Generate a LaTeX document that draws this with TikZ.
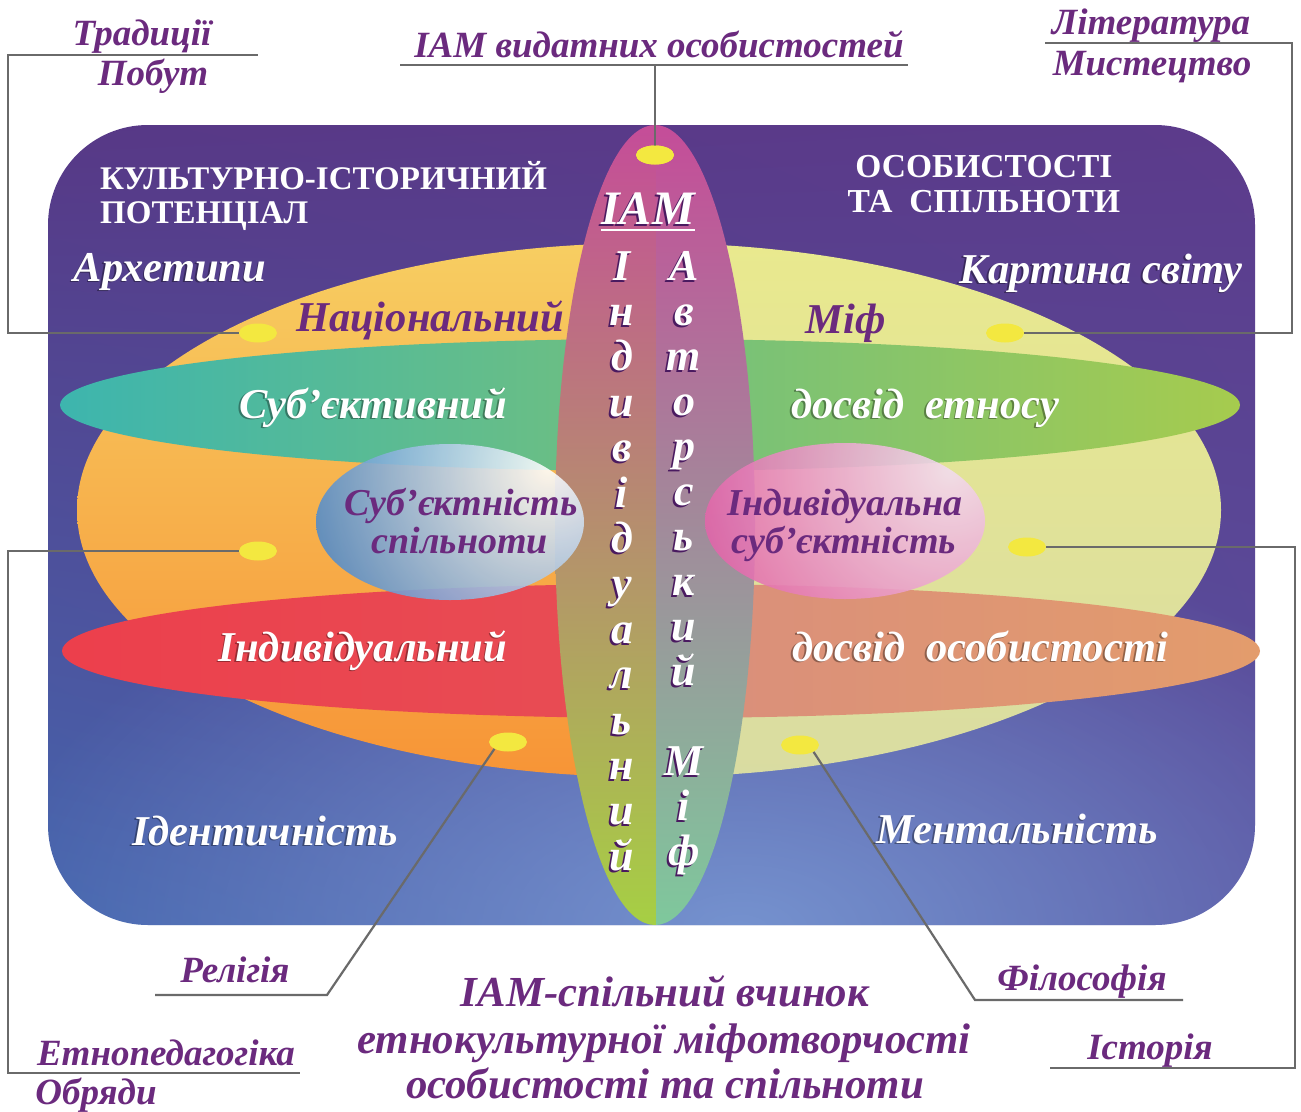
\documentclass[tikz,border=0pt]{standalone}
\usepackage{fontspec}
\setmainfont{Liberation Serif}
\usetikzlibrary{shapes.geometric,fadings,shadings}
\definecolor{txtpurple}{HTML}{6B2A7E}
\definecolor{conncol}{HTML}{6A6A6A}
\definecolor{dotyellow}{HTML}{F3E840}
\definecolor{vshadow}{HTML}{4A1A60}
\definecolor{bgUL}{HTML}{573886}
\definecolor{bgUR}{HTML}{5C3B8B}
\definecolor{bgLL}{HTML}{4566AE}
\definecolor{bgLR}{HTML}{5852A0}
\definecolor{glow}{HTML}{7C9CD6}
\definecolor{orTop}{HTML}{F7CE62}
\definecolor{orMid}{HTML}{F8A846}
\definecolor{orBot}{HTML}{F79436}
\definecolor{ylTop}{HTML}{E9E98E}
\definecolor{ylMid}{HTML}{E6E6A4}
\definecolor{ylBot}{HTML}{D9DCA2}
\definecolor{grL}{HTML}{3DB5AE}
\definecolor{grM}{HTML}{86CB7C}
\definecolor{grR}{HTML}{A6CB4E}
\definecolor{rdL}{HTML}{EC3F4C}
\definecolor{rdM}{HTML}{E74E55}
\definecolor{rdRa}{HTML}{D98E7C}
\definecolor{rdRb}{HTML}{E39C6C}
\definecolor{vTop}{HTML}{C54C99}
\definecolor{vMidL}{HTML}{BB8A80}
\definecolor{vBotL}{HTML}{A6D043}
\definecolor{vMidR}{HTML}{BC92B2}
\definecolor{vBotR}{HTML}{7EC99C}
\definecolor{blueE}{HTML}{3A7CC4}
\definecolor{pinkL}{HTML}{E04E9C}
\definecolor{pinkR}{HTML}{F3DDF0}
\tikzfading[name=softglow, inner color=transparent!0, outer color=transparent!100]
\begin{document}
\begin{tikzpicture}[x=1pt,y=-1pt,
  conn/.style={draw=conncol, line width=2.2pt},
  dot/.style={ellipse, fill=dotyellow, minimum width=38pt, minimum height=19pt, inner sep=0pt},
  outlab/.style={font=\fontsize{37}{40}\selectfont\bfseries\itshape, text=txtpurple, inner sep=0pt, anchor=base},
  head/.style={font=\fontsize{33}{34}\selectfont\bfseries, text=white, inner sep=0pt, anchor=base},
  wlab/.style={font=\fontsize{42.5}{46}\selectfont\bfseries\itshape, text=white, inner sep=0pt, anchor=base},
  wsh/.style={wlab, text=black, text opacity=0.35},
  plab/.style={font=\fontsize{42.5}{46}\selectfont\bfseries\itshape, text=txtpurple, inner sep=0pt, anchor=base},
  slab/.style={font=\fontsize{38}{42}\selectfont\bfseries\itshape, text=txtpurple, inner sep=0pt, anchor=base},
  vlet/.style={font=\fontsize{44}{48}\selectfont\bfseries\itshape, text=white, inner sep=0pt, anchor=base},
  vsh/.style={vlet, text=vshadow},
  blab/.style={font=\fontsize{42.8}{46}\selectfont\bfseries\itshape, text=txtpurple, inner sep=0pt, anchor=base},
]
\fill[white] (0,0) rectangle (1301,1111);
\useasboundingbox (0,0) rectangle (1301,1111);

% panel
\shade[upper left=bgUL, upper right=bgUR, lower left=bgLL, lower right=bgLR, rounded corners=100pt] (48,125) rectangle (1255,925);
\begin{scope}
  \clip[rounded corners=100pt] (48,125) rectangle (1255,925);
  \fill[glow, fill opacity=0.85, path fading=softglow] (740,930) ellipse [x radius=760pt, y radius=420pt];
\end{scope}

% big orange / yellow ellipse
\begin{scope}
  \clip (649,510) ellipse [x radius=572pt, y radius=267pt];
  \shade[top color=orTop, middle color=orMid, bottom color=orBot] (70,240) rectangle (656,780);
  \shade[top color=ylTop, middle color=ylMid, bottom color=ylBot] (656,240) rectangle (1225,780);
\end{scope}

% green ellipse
\shade[left color=grL, middle color=grM, right color=grR] (650,405) ellipse [x radius=590pt, y radius=66pt];

% red ellipse
\begin{scope}
  \clip (661,651) ellipse [x radius=599pt, y radius=67pt];
  \shade[left color=rdL, right color=rdM] (60,580) rectangle (662,720);
  \shade[left color=rdRa, right color=rdRb] (662,580) rectangle (1262,720);
\end{scope}

% vertical ellipse
\begin{scope}
  \clip (655,525) ellipse [x radius=100pt, y radius=400pt];
  \shade[top color=vTop, middle color=vMidL, bottom color=vBotL] (550,120) rectangle (656,930);
  \shade[top color=vTop, middle color=vMidR, bottom color=vBotR] (656,120) rectangle (760,930);
\end{scope}

% small ellipses
\begin{scope}
  \clip (450,522) ellipse [x radius=134pt, y radius=78pt];
  \shade[inner color=white, outer color=blueE, opacity=0.88] (548,468) circle (270pt);
\end{scope}
\begin{scope}
  \clip (845,521) ellipse [x radius=140pt, y radius=78pt];
  \shade[inner color=pinkR, outer color=pinkL, opacity=0.88] (950,470) circle (300pt);
\end{scope}

% dots
\node[dot] (d0) at (655,155) {};
\node[dot] (d1) at (258,333) {};
\node[dot] (d2) at (1005,333) {};
\node[dot] (d3) at (258,551) {};
\node[dot] (d4) at (1027,547) {};
\node[dot] (d5) at (508,742) {};
\node[dot] (d6) at (800,745) {};

% connector coordinates
\coordinate (u0a) at (400,65);
\coordinate (u0b) at (908,65);
\coordinate (c0) at (655,65);
\coordinate (tlb) at (8,333);
\coordinate (tl) at (8,55);
\coordinate (tlend) at (258,55);
\coordinate (trb) at (1292,333);
\coordinate (tr) at (1292,43);
\coordinate (trend) at (1045,43);
\coordinate (lb1) at (8,551);
\coordinate (lb2) at (8,1073);
\coordinate (lb3) at (300,1073);
\coordinate (r1) at (327,995);
\coordinate (r2) at (155,995);
\coordinate (rb1) at (1295,547);
\coordinate (rb2) at (1295,1068);
\coordinate (rb3) at (1050,1068);
\coordinate (f1) at (975,1000);
\coordinate (f2) at (1183,1000);

\draw[conn] (u0a) -- (u0b);
\draw[conn] (c0) -- (d0.center);
\draw[conn] (d1.west) -- (tlb) -- (tl) -- (tlend);
\draw[conn] (d2.east) -- (trb) -- (tr) -- (trend);
\draw[conn] (d3.west) -- (lb1) -- (lb2) -- (lb3);
\draw[conn] (d5.south west) -- (r1) -- (r2);
\draw[conn] (d4.east) -- (rb1) -- (rb2) -- (rb3);
\draw[conn] (d6.south east) -- (f1) -- (f2);
\node[dot] (d0b) at (d0) {};

% outside labels
\node[outlab] (tTrad) at (142,45) {Традиції};
\node[outlab] (tPob) at (153,85) {Побут};
\node[outlab] (tIAMv) at (659,57) {ІАМ видатних особистостей};
\node[outlab] (tLit) at (1151,34) {Література};
\node[outlab] (tMyst) at (1152,75) {Мистецтво};
\node[outlab] (tRel) at (235,982) {Релігія};
\node[outlab] (tEtn) at (166,1065) {Етнопедагогіка};
\node[outlab] (tObr) at (96,1104) {Обряди};
\node[outlab] (tFil) at (1082,990) {Філософія};
\node[outlab] (tIst) at (1150,1059) {Історія};

% headers (two lines each; base anchor = last line)
\node[head, align=left, anchor=base west] (hK) at (100,223) {КУЛЬТУРНО-ІСТОРИЧНИЙ\\ПОТЕНЦІАЛ};
\node[head, align=center, font=\fontsize{33.5}{35}\selectfont\bfseries] (hO) at (984,212) {ОСОБИСТОСТІ\\ТА\ \ СПІЛЬНОТИ};

% white labels with soft shadow
\newcommand\wlabel[4]{%
  \node[wsh] (#1s) at (#2-1.5,#3+1.5) {#4};
  \node[wlab] (#1) at (#2,#3) {#4};}
\wlabel{tArch}{170}{281}{Архетипи}
\wlabel{tKart}{1101}{283}{Картина світу}
\wlabel{tSub}{373}{418}{Суб’єктивний}
\wlabel{tDet}{925}{418}{досвід\ \ етносу}
\wlabel{tInd}{363}{661}{Індивідуальний}
\wlabel{tDos}{980}{661}{досвід\ \ особистості}
\wlabel{tIdent}{265}{845}{Ідентичність}
\wlabel{tMent}{1017}{843}{Ментальність}

% purple labels
\node[plab] (tNat) at (430,331) {Національний};
\node[plab] (tMif) at (846,333) {Міф};
\node[slab] (tSs1) at (461,515) {Суб’єктність};
\node[slab] (tSs2) at (460,553) {спільноти};
\node[slab] (tIs1) at (845,515) {Індивідуальна};
\node[slab] (tIs2) at (844,553) {суб’єктність};

% IAM
\node[vsh, font=\fontsize{48}{52}\selectfont\bfseries\itshape] (iams) at (646,226) {ІАМ};
\node[vlet, font=\fontsize{48}{52}\selectfont\bfseries\itshape] (iam) at (648,224) {ІАМ};
\draw[white, line width=2.2pt] ([yshift=-6pt]iam.base west) -- ([yshift=-6pt]iam.base east);

% vertical letters
\foreach \ch [count=\i] in {І,н,д,и,в,і,д,у,а,л,ь,н,и,й} {
  \node[vsh] (vls\i) at (620,{282+45.4*(\i-1)}) {\ch};
  \node[vlet] (vl\i) at (622,{280+45.4*(\i-1)}) {\ch};
}
\foreach \ch/\k in {А/0,в/1,т/2,о/3,р/4,с/5,ь/6,к/7,и/8,й/9,М/11,і/12,ф/13} {
  \node[vsh] (vrs\k) at (682,{282+45*\k}) {\ch};
  \node[vlet] (vr\k) at (684,{280+45*\k}) {\ch};
}

% bottom caption
\node[blab] (b1) at (665,1006) {ІАМ-спільний вчинок};
\node[blab] (b2) at (664,1053) {етнокультурної міфотворчості};
\node[blab] (b3) at (665,1098) {особистості та спільноти};
\end{tikzpicture}
\end{document}
